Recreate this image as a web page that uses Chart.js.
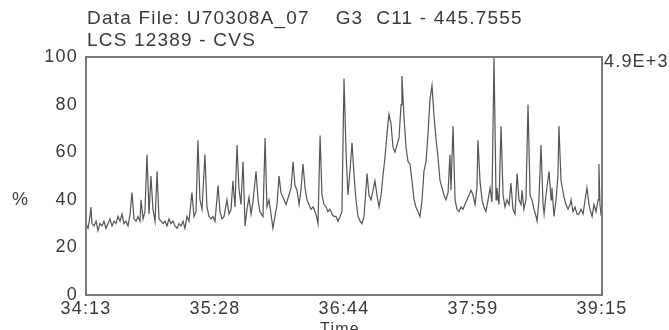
<!DOCTYPE html>
<html>
<head>
<meta charset="utf-8">
<script src="https://cdn.jsdelivr.net/npm/chart.js@4/dist/chart.umd.min.js"></script>
<style>
html,body{margin:0;padding:0;background:#fff;}
#c{display:block;}
</style>
</head>
<body>
<canvas id="c" width="669" height="330"></canvas>
<script>
// Seconds elapsed since 34:13 (2053 s)
const startSeconds = 2053;
const times = [0.0,1.2,2.3,2.9,3.5,4.7,5.9,7.0,8.2,9.4,10.5,11.7,12.9,14.0,15.2,16.4,17.6,18.7,19.9,21.1,22.2,23.4,24.6,25.8,26.9,28.1,29.3,30.4,31.6,32.2,33.4,34.5,35.7,36.9,38.0,39.2,40.4,41.6,42.7,43.9,45.1,46.2,47.4,48.6,49.7,50.9,52.1,53.3,54.4,55.6,56.8,57.9,59.1,60.3,62.0,63.2,64.4,65.5,66.7,67.9,69.6,70.8,72.0,73.2,74.3,75.5,77.3,78.4,79.6,80.8,82.5,83.7,84.9,86.0,87.2,88.4,89.5,90.7,91.9,93.1,94.2,95.4,96.6,97.7,99.5,100.7,101.8,103.6,104.8,105.9,107.1,108.3,109.4,110.6,111.8,113.0,114.1,115.9,117.1,118.8,120.0,121.2,122.3,123.5,124.7,125.8,127.0,128.2,129.3,130.5,131.7,132.9,134.6,135.8,137.0,138.1,139.3,140.5,141.6,142.8,144.0,145.1,146.3,147.5,148.7,149.8,151.0,152.2,153.3,154.5,155.7,156.9,158.0,159.2,160.4,161.5,162.7,164.5,165.6,166.8,168.0,169.1,170.3,171.5,172.7,173.8,175.0,176.2,177.3,178.5,179.7,180.8,182.0,183.2,184.4,184.9,186.1,187.3,188.5,189.6,190.8,192.0,193.1,194.3,195.5,196.7,197.8,199.0,200.2,201.3,202.5,203.7,204.8,206.0,207.2,208.4,209.5,210.7,211.9,213.0,213.6,214.8,216.0,217.1,218.3,219.5,220.6,221.8,223.0,224.2,225.3,226.5,227.7,228.8,229.4,230.6,231.8,232.9,234.1,235.3,236.5,237.6,238.8,240.0,240.5,241.7,242.9,244.1,245.2,246.4,247.6,248.7,249.9,251.1,252.3,253.4,254.6,255.2,256.3,257.5,258.7,259.9,261.0,262.2,263.4,264.0,265.1,266.3,267.5,268.1,269.2,271.0,272.2,272.7,273.9,275.1,276.2,276.8,278.0,279.8,280.9,282.1,283.3,283.9,285.0,286.2,287.4,288.5,289.7,290.9,292.1,293.2,294.4,295.0,296.2,297.3,298.5,299.7,300.2,300.8,301.4,302.0];
const percent = [30,28,33,37,30,29,31,27,30,29,31,28,30,32,29,31,30,33,31,34,30,31,29,34,43,32,31,33,31,40,32,35,59,34,50,36,31,52,32,31,30,31,29,32,30,31,29,28,30,29,31,28,33,31,43,33,35,65,40,36,59,37,33,32,33,31,46,35,32,33,40,34,36,48,37,63,45,38,56,29,36,41,34,39,52,40,35,33,66,37,40,34,28,33,38,50,43,40,38,42,45,56,46,44,38,44,55,45,40,38,36,37,34,30,67,42,38,37,35,36,34,33,33,31,33,35,91,60,42,52,64,50,40,33,31,30,33,51,42,40,44,48,42,37,42,50,58,68,76,72,62,60,63,66,80,92,75,62,56,55,48,40,37,35,33,40,52,56,68,82,88,75,66,58,48,45,42,40,43,59,44,71,40,36,35,37,36,38,40,42,44,42,38,45,65,48,40,37,35,40,45,39,100,40,45,38,71,42,37,40,38,47,36,34,51,40,38,44,36,40,80,42,40,36,33,31,40,63,38,34,42,52,40,45,33,40,50,71,48,41,38,36,38,40,35,37,34,34,36,34,40,45,38,36,33,38,35,40,55,38,34,35];
const xTickValues = [0, 75.5, 151, 226.5, 302];
const yTickValues = [0, 20, 40, 60, 80, 100];
const titleLines = ["Data File: U70308A_07    G3  C11 - 445.7555", "LCS 12389 - CVS"];
const yLabel = "%";
const xLabel = "Time";
const maxLabel = "4.9E+3";

const FONT = "'Liberation Sans', Arial, Helvetica, sans-serif";
const TEXT = "#3a3a3a";
const SPACING = "1.2px";

function fmt(v){
  const s = Math.floor(startSeconds + v + 0.001);
  const m = Math.floor(s/60), r = s % 60;
  return m + ":" + (r<10?"0":"") + r;
}

const frame = {
  id: 'frame',
  beforeInit(chart){ chart.ctx.letterSpacing = SPACING; },
  beforeLayout(chart){ chart.ctx.letterSpacing = SPACING; },
  beforeDraw(chart){
    const c = chart.ctx;
    c.letterSpacing = SPACING;
    c.save(); c.fillStyle = '#fff'; c.fillRect(0,0,chart.width,chart.height); c.restore();
  },
  afterDraw(chart){
    const c = chart.ctx, a = chart.chartArea;
    c.save();
    c.strokeStyle = '#7a7a7a'; c.lineWidth = 2;
    c.strokeRect(a.left, a.top, a.right - a.left, a.bottom - a.top);
    c.fillStyle = TEXT;
    c.letterSpacing = SPACING;
    c.font = "19px " + FONT;
    c.textBaseline = 'middle';
    c.textAlign = 'left';
    c.fillText(titleLines[0], 87, 19);
    c.fillText(titleLines[1], 87, 41);
    c.font = "18px " + FONT;
    c.fillText(maxLabel, a.right + 2, 62);
    c.fillText(yLabel, 12, 200);
    c.textAlign = 'center';
    c.font = "16px " + FONT;
    c.fillText(xLabel, 340, 330);
    c.restore();
  }
};

new Chart(document.getElementById('c'), {
  type: 'line',
  data: {
    datasets: [{
      data: times.map((t,i)=>({x:t, y:percent[i]})),
      borderColor: '#555',
      borderWidth: 1.2,
      pointRadius: 0,
      tension: 0,
      fill: false
    }]
  },
  options: {
    responsive: false,
    animation: false,
    devicePixelRatio: 1,
    layout: { padding: { left: 0, right: 67, top: 57, bottom: 0 } },
    plugins: { legend: { display: false }, tooltip: { enabled: false }, title: { display: false } },
    scales: {
      x: {
        type: 'linear', min: 0, max: 302,
        grid: { display: false, drawTicks: false },
        border: { display: false },
        afterBuildTicks(s){ s.ticks = xTickValues.map(v=>({value:v})); },
        afterFit(s){ s.height = 35; },
        ticks: { callback: v => fmt(v), color: TEXT, font: { size: 18, family: FONT }, padding: 3, maxRotation: 0, autoSkip: false }
      },
      y: {
        min: 0, max: 100,
        grid: { display: false, drawTicks: false },
        border: { display: false },
        afterBuildTicks(s){ s.ticks = yTickValues.map(v=>({value:v})); },
        afterFit(s){ s.width = 86; },
        ticks: { color: TEXT, font: { size: 18, family: FONT }, padding: 8 }
      }
    }
  },
  plugins: [frame]
});
</script>
</body>
</html>
